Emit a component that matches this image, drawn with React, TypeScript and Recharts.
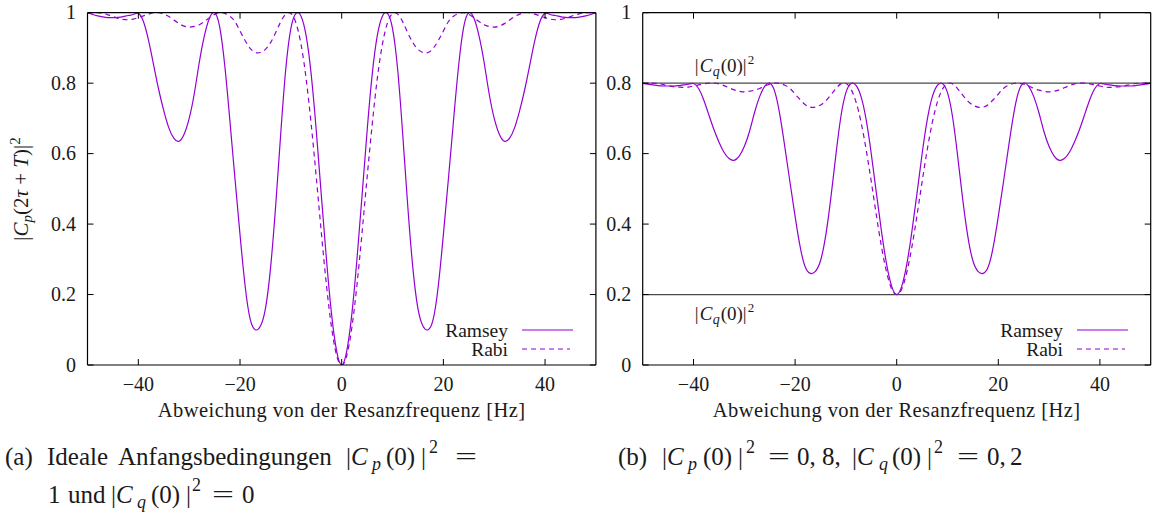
import React from 'react';
import { LineChart, Line, XAxis, YAxis, ReferenceLine, Legend } from 'recharts';

const FONT = '"Liberation Serif", "Times New Roman", "DejaVu Serif", serif';
const PURPLE = '#9400d3';
const TEXT = '#1a1a1a';

// ---------------- data ----------------
const freq = [
  -50, -49, -48, -47, -46, -45, -44, -43, -42, -41,
  -40, -39, -38, -37, -36, -35, -34, -33, -32, -31,
  -30, -29, -28, -27, -26, -25, -24, -23, -22, -21,
  -20, -19, -18, -17, -16, -15, -14, -13, -12, -11,
  -10, -9, -8, -7, -6, -5, -4, -3, -2, -1,
  0,
  1, 2, 3, 4, 5, 6, 7, 8, 9, 10,
  11, 12, 13, 14, 15, 16, 17, 18, 19, 20,
  21, 22, 23, 24, 25, 26, 27, 28, 29, 30,
  31, 32, 33, 34, 35, 36, 37, 38, 39, 40,
  41, 42, 43, 44, 45, 46, 47, 48, 49, 50,
];

const ramseyIdeal = [
  1.0, 0.995, 0.991, 0.988, 0.986, 0.986, 0.987, 0.989, 0.992, 0.995,
  0.998, 0.975, 0.922, 0.852, 0.782, 0.722, 0.673, 0.643, 0.635, 0.655,
  0.70, 0.77, 0.86, 0.935, 0.985, 1.0, 0.96, 0.85, 0.695, 0.53,
  0.37, 0.225, 0.13, 0.10, 0.11, 0.16, 0.275, 0.45, 0.655, 0.84,
  0.955, 0.998, 0.99, 0.935, 0.825, 0.665, 0.48, 0.30, 0.145, 0.04,
  0,
  0.04, 0.145, 0.30, 0.48, 0.665, 0.825, 0.935, 0.99, 0.998, 0.955,
  0.84, 0.655, 0.45, 0.275, 0.16, 0.11, 0.10, 0.13, 0.225, 0.37,
  0.53, 0.695, 0.85, 0.96, 1.0, 0.985, 0.935, 0.86, 0.77, 0.70,
  0.655, 0.635, 0.643, 0.673, 0.722, 0.782, 0.852, 0.922, 0.975, 0.998,
  0.995, 0.992, 0.989, 0.987, 0.986, 0.986, 0.988, 0.991, 0.995, 1.0,
];

const rabiIdeal = [
  0.998, 1.0, 1.0, 0.998, 0.994, 0.989, 0.984, 0.981, 0.98, 0.982,
  0.986, 0.991, 0.996, 1.0, 1.0, 0.996, 0.989, 0.979, 0.969, 0.962,
  0.959, 0.961, 0.966, 0.975, 0.986, 0.995, 1.0, 0.998, 0.99, 0.975,
  0.948, 0.921, 0.899, 0.887, 0.887, 0.896, 0.915, 0.943, 0.974, 0.996,
  0.998, 0.971, 0.91, 0.813, 0.683, 0.533, 0.375, 0.227, 0.107, 0.027,
  0,
  0.027, 0.107, 0.227, 0.375, 0.533, 0.683, 0.813, 0.91, 0.971, 0.998,
  0.996, 0.974, 0.943, 0.915, 0.896, 0.887, 0.887, 0.899, 0.921, 0.948,
  0.975, 0.99, 0.998, 1.0, 0.995, 0.986, 0.975, 0.966, 0.961, 0.959,
  0.962, 0.969, 0.979, 0.989, 0.996, 1.0, 1.0, 0.996, 0.991, 0.986,
  0.982, 0.98, 0.981, 0.984, 0.989, 0.994, 0.998, 1.0, 1.0, 0.998,
];

const ramseyMixed = [
  0.8, 0.797, 0.795, 0.793, 0.792, 0.792, 0.792, 0.793, 0.795, 0.797,
  0.799, 0.785, 0.753, 0.711, 0.669, 0.633, 0.604, 0.586, 0.581, 0.593,
  0.62, 0.662, 0.716, 0.761, 0.791, 0.8, 0.776, 0.71, 0.617, 0.518,
  0.422, 0.335, 0.278, 0.26, 0.266, 0.296, 0.365, 0.47, 0.593, 0.704,
  0.773, 0.799, 0.794, 0.761, 0.695, 0.599, 0.488, 0.38, 0.287, 0.224,
  0.2,
  0.224, 0.287, 0.38, 0.488, 0.599, 0.695, 0.761, 0.794, 0.799, 0.773,
  0.704, 0.593, 0.47, 0.365, 0.296, 0.266, 0.26, 0.278, 0.335, 0.422,
  0.518, 0.617, 0.71, 0.776, 0.8, 0.791, 0.761, 0.716, 0.662, 0.62,
  0.593, 0.581, 0.586, 0.604, 0.633, 0.669, 0.711, 0.753, 0.785, 0.799,
  0.797, 0.795, 0.793, 0.792, 0.792, 0.792, 0.793, 0.795, 0.797, 0.8,
];

const rabiMixed = [
  0.799, 0.8, 0.8, 0.799, 0.796, 0.793, 0.79, 0.789, 0.788, 0.789,
  0.792, 0.795, 0.798, 0.8, 0.8, 0.798, 0.793, 0.787, 0.781, 0.777,
  0.775, 0.777, 0.78, 0.785, 0.792, 0.797, 0.8, 0.799, 0.794, 0.785,
  0.769, 0.753, 0.739, 0.732, 0.732, 0.738, 0.749, 0.766, 0.784, 0.798,
  0.799, 0.783, 0.746, 0.688, 0.61, 0.52, 0.425, 0.336, 0.264, 0.216,
  0.2,
  0.216, 0.264, 0.336, 0.425, 0.52, 0.61, 0.688, 0.746, 0.783, 0.799,
  0.798, 0.784, 0.766, 0.749, 0.738, 0.732, 0.732, 0.739, 0.753, 0.769,
  0.785, 0.794, 0.799, 0.8, 0.797, 0.792, 0.785, 0.78, 0.777, 0.775,
  0.777, 0.781, 0.787, 0.793, 0.798, 0.8, 0.8, 0.798, 0.795, 0.792,
  0.789, 0.788, 0.789, 0.79, 0.793, 0.796, 0.799, 0.8, 0.8, 0.799,
];

const xTicks = [-40, -20, 0, 20, 40];
const xTickLabels = ['\u221240', '\u221220', '0', '20', '40'];
const yTicks = [0, 0.2, 0.4, 0.6, 0.8, 1];
const yTickLabels = ['0', '0.2', '0.4', '0.6', '0.8', '1'];
const initialLevels = [0.8, 0.2];
const seriesNames = ['Ramsey', 'Rabi'];
const xTitle = 'Abweichung von der Resanzfrequenz [Hz]';

const dataIdeal = freq.map((f, i) => ({ f, ramsey: ramseyIdeal[i], rabi: rabiIdeal[i] }));
const dataMixed = freq.map((f, i) => ({ f, ramsey: ramseyMixed[i], rabi: rabiMixed[i] }));

// ---------------- layout ----------------
const CHART_H = 430;
const PLOT_TOP = 12.7;
const PLOT_BOTTOM = 365;
const TICK = 6;
const X_AXIS_H = 30;
const Y_AXIS_W = 30;

function makeXTick() {
  return (props: any) => {
    const { x, payload } = props;
    const idx = xTicks.indexOf(payload.value);
    return (
      <g>
        <line x1={x} x2={x} y1={PLOT_BOTTOM} y2={PLOT_BOTTOM - TICK} stroke="#000" strokeWidth={1} />
        <line x1={x} x2={x} y1={PLOT_TOP} y2={PLOT_TOP + TICK} stroke="#000" strokeWidth={1} />
        <text x={x} y={PLOT_BOTTOM + 26} textAnchor="middle" style={{ fontFamily: FONT }} fontSize={20} fill={TEXT}>
          {idx >= 0 ? xTickLabels[idx] : ''}
        </text>
      </g>
    );
  };
}

function makeYTick(left: number, right: number) {
  return (props: any) => {
    const { y, payload } = props;
    const idx = yTicks.indexOf(payload.value);
    return (
      <g>
        <line x1={left} x2={left + TICK} y1={y} y2={y} stroke="#000" strokeWidth={1} />
        <line x1={right} x2={right - TICK} y1={y} y2={y} stroke="#000" strokeWidth={1} />
        <text x={left - 11.5} y={y + 6.5} textAnchor="end" style={{ fontFamily: FONT }} fontSize={20} fill={TEXT}>
          {idx >= 0 ? yTickLabels[idx] : ''}
        </text>
      </g>
    );
  };
}

const XTitle = (props: any) => {
  const vb = props.viewBox || {};
  return (
    <text
      x={vb.x + vb.width / 2}
      y={417}
      textAnchor="middle"
      style={{ fontFamily: FONT }}
      fontSize={20.5}
      letterSpacing={0.45}
      fill={TEXT}
    >
      {xTitle}
    </text>
  );
};

const CqLabel = (props: any) => {
  const vb = props.viewBox || {};
  const y = vb.y + props.dyBase;
  const x0 = vb.x + 52;
  return (
    <text style={{ fontFamily: FONT }} fontSize={19} fill={TEXT}>
      <tspan x={x0} y={y}>|</tspan>
      <tspan x={x0 + 5} y={y} fontStyle="italic">C</tspan>
      <tspan x={x0 + 18} y={y + 4} fontStyle="italic" fontSize={14}>q</tspan>
      <tspan x={x0 + 26} y={y}>(0)|</tspan>
      <tspan x={x0 + 53} y={y - 8} fontSize={13}>2</tspan>
    </text>
  );
};

const LegendBox = (props: any) => {
  const items = ([...(props.payload || [])] as any[]).sort(
    (a, b) => seriesNames.indexOf(a.value) - seriesNames.indexOf(b.value)
  );
  return (
    <svg width={200} height={45} style={{ display: 'block', overflow: 'visible' }}>
      {items.map((it: any, i: number) => (
        <g key={i}>
          <text x={108} y={15 + i * 19 + 6.5} textAnchor="end" style={{ fontFamily: FONT }} fontSize={19.5} fill={TEXT}>
            {it.value}
          </text>
          <line
            x1={122}
            x2={it.value === seriesNames[1] ? 170 : 173}
            y1={15 + i * 19}
            y2={15 + i * 19}
            stroke={PURPLE}
            strokeWidth={1.2}
            strokeDasharray={it.value === seriesNames[1] ? '5 4' : undefined}
          />
        </g>
      ))}
    </svg>
  );
};

type PanelProps = {
  data: any[];
  width: number;
  left: number;
  right: number;
  legendLeft: number;
  levels?: number[];
};

function Panel({ data, width, left, right, legendLeft, levels }: PanelProps) {
  const plotLeft = left;
  const plotRight = width - right;
  return (
    <LineChart
      width={width}
      height={CHART_H}
      data={data}
      margin={{ top: PLOT_TOP, left: left - Y_AXIS_W, right, bottom: CHART_H - PLOT_BOTTOM - X_AXIS_H }}
    >
      <XAxis
        dataKey="f"
        type="number"
        domain={[-50, 50]}
        ticks={xTicks}
        interval={0}
        height={X_AXIS_H}
        tickSize={0}
        tickMargin={0}
        tickLine={false}
        axisLine={false}
        allowDataOverflow
        tick={makeXTick()}
        label={<XTitle />}
      />
      <YAxis
        type="number"
        domain={[0, 1]}
        ticks={yTicks}
        interval={0}
        width={Y_AXIS_W}
        tickSize={0}
        tickMargin={0}
        tickLine={false}
        axisLine={false}
        allowDataOverflow
        tick={makeYTick(plotLeft, plotRight)}
      />
      {(levels || []).map((lv, i) => (
        <ReferenceLine
          key={'lv' + i}
          y={lv}
          stroke="#4a4a4a"
          strokeWidth={1.3}
          label={<CqLabel dyBase={i === 0 ? -11 : 25} />}
        />
      ))}
      <Line
        type="natural"
        dataKey="ramsey"
        name={seriesNames[0]}
        stroke={PURPLE}
        strokeWidth={1.2}
        dot={false}
        isAnimationActive={false}
      />
      <Line
        type="natural"
        dataKey="rabi"
        name={seriesNames[1]}
        stroke={PURPLE}
        strokeWidth={1.2}
        strokeDasharray="5 4"
        dot={false}
        isAnimationActive={false}
      />
      <ReferenceLine y={0} stroke="#000" strokeWidth={1.2} />
      <ReferenceLine y={1} stroke="#000" strokeWidth={1.2} />
      <ReferenceLine x={-50} stroke="#000" strokeWidth={1.2} />
      <ReferenceLine x={50} stroke="#000" strokeWidth={1.2} />
      <Legend
        layout="horizontal"
        verticalAlign="middle"
        align="center"
        content={<LegendBox />}
        wrapperStyle={{ left: legendLeft, top: 315, width: 200, height: 45 }}
      />
    </LineChart>
  );
}

const CAP = 25;
const SUB = 18;

export default function App() {
  return (
    <div style={{ position: 'absolute', left: 0, top: 0, width: 1155, height: 515, background: '#fff' }}>
      <div style={{ position: 'absolute', left: 0, top: 0 }}>
        <Panel data={dataIdeal} width={600} left={87.5} right={4.1} legendLeft={400} />
      </div>
      <div style={{ position: 'absolute', left: 600, top: 0 }}>
        <Panel data={dataMixed} width={555} left={42.7} right={4.3} legendLeft={355} levels={initialLevels} />
      </div>
      <svg
        width={1155}
        height={515}
        style={{ position: 'absolute', left: 0, top: 0, pointerEvents: 'none', fontFamily: FONT }}
        fill={TEXT}
      >
        <text transform="translate(28,189) rotate(-90)" textAnchor="middle" fontSize={21}>
          <tspan>|</tspan>
          <tspan fontStyle="italic">C</tspan>
          <tspan fontStyle="italic" fontSize={15} dy={4}>p</tspan>
          <tspan dy={-4}>(2</tspan>
          <tspan fontStyle="italic">τ</tspan>
          <tspan> + </tspan>
          <tspan fontStyle="italic">T</tspan>
          <tspan>)|</tspan>
          <tspan fontSize={15} dy={-8}>2</tspan>
        </text>

        <text fontSize={CAP}>
          <tspan x={5} y={465}>(a)</tspan>
          <tspan x={47} y={465}>Ideale</tspan>
          <tspan x={118} y={465}>Anfangsbedingungen</tspan>
          <tspan x={346} y={465}>|</tspan>
          <tspan x={351} y={465} fontStyle="italic">C</tspan>
          <tspan x={372} y={470} fontStyle="italic" fontSize={SUB}>p</tspan>
          <tspan x={386} y={465}>(0)</tspan>
          <tspan x={421} y={465}>|</tspan>
          <tspan x={429} y={453} fontSize={SUB}>2</tspan>
        </text>
        <text x={455} y={465} fontSize={CAP} textLength={22} lengthAdjust="spacingAndGlyphs">=</text>

        <text fontSize={CAP}>
          <tspan x={48} y={503}>1</tspan>
          <tspan x={68} y={503}>und</tspan>
          <tspan x={111} y={503}>|</tspan>
          <tspan x={116} y={503} fontStyle="italic">C</tspan>
          <tspan x={137} y={508} fontStyle="italic" fontSize={SUB}>q</tspan>
          <tspan x={151} y={503}>(0)</tspan>
          <tspan x={186} y={503}>|</tspan>
          <tspan x={192} y={491} fontSize={SUB}>2</tspan>
          <tspan x={242} y={503}>0</tspan>
        </text>
        <text x={212} y={503} fontSize={CAP} textLength={22} lengthAdjust="spacingAndGlyphs">=</text>

        <text fontSize={CAP}>
          <tspan x={618} y={465}>(b)</tspan>
          <tspan x={662} y={465}>|</tspan>
          <tspan x={667} y={465} fontStyle="italic">C</tspan>
          <tspan x={688} y={470} fontStyle="italic" fontSize={SUB}>p</tspan>
          <tspan x={703} y={465}>(0)</tspan>
          <tspan x={738} y={465}>|</tspan>
          <tspan x={746} y={453} fontSize={SUB}>2</tspan>
          <tspan x={797} y={465}>0,</tspan>
          <tspan x={822} y={465}>8,</tspan>
          <tspan x={852} y={465}>|</tspan>
          <tspan x={857} y={465} fontStyle="italic">C</tspan>
          <tspan x={879} y={470} fontStyle="italic" fontSize={SUB}>q</tspan>
          <tspan x={892} y={465}>(0)</tspan>
          <tspan x={927} y={465}>|</tspan>
          <tspan x={934} y={453} fontSize={SUB}>2</tspan>
          <tspan x={987} y={465}>0,</tspan>
          <tspan x={1010} y={465}>2</tspan>
        </text>
        <text x={768} y={465} fontSize={CAP} textLength={22} lengthAdjust="spacingAndGlyphs">=</text>
        <text x={957} y={465} fontSize={CAP} textLength={22} lengthAdjust="spacingAndGlyphs">=</text>
      </svg>
    </div>
  );
}
